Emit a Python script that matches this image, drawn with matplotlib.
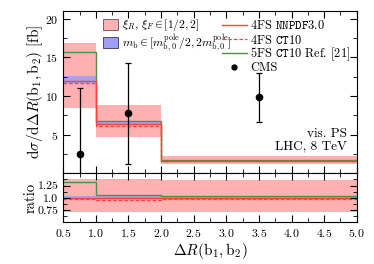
# NLO predictions vs CMS data for Delta R(b1, b2), with ratio panel

import matplotlib.pyplot as plt
import matplotlib.patches as mpatches
from matplotlib.legend import Legend
from matplotlib.lines import Line2D
from matplotlib.ticker import MultipleLocator
import numpy as np

plt.rcParams['font.family'] = 'serif'
plt.rcParams['font.serif'] = ['cmr10', 'DejaVu Serif']
plt.rcParams['mathtext.fontset'] = 'cm'
plt.rcParams['axes.formatter.use_mathtext'] = True
plt.rcParams['font.size'] = 8

edges = [0.5, 1.0, 2.0, 5.0]

# main panel [fb]
scale_lo = [8.5, 4.65, 1.25]
scale_hi = [16.85, 8.85, 2.25]
mb_lo = [11.65, 6.2, 1.55]
mb_hi = [12.6, 6.7, 1.72]
nnpdf = [11.9, 6.4, 1.62]
ct10 = [11.7, 6.1, 1.57]
fs5 = [15.7, 6.75, 1.67]

cms_x = [0.75, 1.5, 3.5]
cms_y = [2.55, 7.75, 9.85]
cms_up = [11.1, 14.3, 13.0]
cms_dn = [-1.0, 1.25, 6.7]

# ratio panel
r_scale_lo = [0.705, 0.71, 0.72]
r_scale_hi = [1.39, 1.38, 1.37]
r_mb_lo = [0.985, 0.975, 0.985]
r_mb_hi = [1.045, 1.04, 1.03]
r_nnpdf = [1.0, 1.0, 1.0]
r_ct10 = [0.98, 0.955, 0.975]
r_fs5 = [1.315, 1.05, 1.03]

c_band = '#ffb0b0'
c_mb = '#9e9ef5'
c_red = '#ff4040'
c_green = '#4f8f45'

fig = plt.figure(figsize=(3.74, 2.64), dpi=100)
ax = fig.add_axes([0.169, 0.3436, 0.785, 0.6147])
rax = fig.add_axes([0.169, 0.158, 0.785, 0.1856])


def draw(a, s_lo, s_hi, m_lo, m_hi, nn, ct, f5):
    a.stairs(s_hi, edges, baseline=s_lo, fill=True, color=c_band, lw=0)
    a.stairs(m_hi, edges, baseline=m_lo, fill=True, color=c_mb, alpha=0.85, lw=0)
    a.stairs(f5, edges, baseline=None, color=c_green, lw=1.0)
    a.stairs(nn, edges, baseline=None, color=c_red, lw=1.0)
    a.stairs(ct, edges, baseline=None, color=c_red, lw=0.9, ls=(0, (3, 1.5)))


draw(ax, scale_lo, scale_hi, mb_lo, mb_hi, nnpdf, ct10, fs5)
draw(rax, r_scale_lo, r_scale_hi, r_mb_lo, r_mb_hi, r_nnpdf, r_ct10, r_fs5)

yerr = [np.array(cms_y) - np.array(cms_dn), np.array(cms_up) - np.array(cms_y)]
ax.errorbar(cms_x, cms_y, yerr=yerr, fmt='o', color='black', ms=4.5,
            elinewidth=0.9, capsize=2.5, capthick=0.9, zorder=5)

for a in (ax, rax):
    a.set_xlim(0.5, 5.0)
    a.xaxis.set_major_locator(MultipleLocator(0.5))
    a.xaxis.set_minor_locator(MultipleLocator(0.25))
    a.tick_params(which='both', direction='in', top=True, right=True, labelsize=8.5)
    a.tick_params(which='major', length=5)
    a.tick_params(which='minor', length=3)

ax.set_ylim(0, 21)
ax.set_yticks([5, 10, 15, 20])
ax.yaxis.set_minor_locator(MultipleLocator(2.5))
ax.tick_params(labelbottom=False)
ax.set_ylabel(r'$\mathrm{d}\sigma/\mathrm{d}\Delta R(\mathrm{b}_1,\mathrm{b}_2)$ [fb]',
              fontsize=11, labelpad=0)

rax.set_ylim(0.5, 1.5)
rax.set_yticks([0.75, 1.0, 1.25])
rax.set_yticklabels(['0.75', '1.0', '1.25'])
rax.yaxis.set_minor_locator(MultipleLocator(0.125))
rax.set_ylabel('ratio', fontsize=10.5, labelpad=0)
rax.set_xlabel(r'$\Delta R(\mathrm{b}_1,\mathrm{b}_2)$', fontsize=11, labelpad=1)
fig.align_ylabels([ax, rax])

ax.text(0.965, 0.245, 'vis. PS', transform=ax.transAxes, ha='right', va='center', fontsize=9.5)
ax.text(0.965, 0.165, 'LHC, 8 TeV', transform=ax.transAxes, ha='right', va='center', fontsize=9.5)

# legend entries, one per row so the rows sit evenly
band_handles = [
    mpatches.Patch(facecolor=c_band, edgecolor='#555555', lw=0.6),
    mpatches.Patch(facecolor=c_mb, edgecolor='#333366', lw=0.6),
]
band_labels = [r'$\xi_R,\,\xi_F\in[1/2,2]$',
               r'$m_\mathrm{b}\in[m_{\mathrm{b},0}^\mathrm{pole}/2,2m_{\mathrm{b},0}^\mathrm{pole}]$']
band_rows = [0.912, 0.802]

line_handles = [
    Line2D([], [], color=c_red, lw=1.0),
    Line2D([], [], color=c_red, lw=0.9, ls=(0, (3, 1.5))),
    Line2D([], [], color=c_green, lw=1.0),
    Line2D([], [], color='black', marker='o', ms=3.5, ls='None'),
]
line_labels = [r'4FS $\mathtt{NNPDF3.0}$', r'4FS $\mathtt{CT10}$',
               r'5FS $\mathtt{CT10}$ Ref. [21]', 'CMS']
line_rows = [0.908, 0.821, 0.735, 0.649]

for h, lab, y in zip(band_handles, band_labels, band_rows):
    lg = Legend(ax, [h], [lab], loc='center left', bbox_to_anchor=(0.135, y),
                frameon=False, fontsize=8.4, handlelength=1.3, handleheight=1.1,
                handletextpad=0.35, borderpad=0, borderaxespad=0)
    ax.add_artist(lg)

for h, lab, y in zip(line_handles, line_labels, line_rows):
    lg = Legend(ax, [h], [lab], loc='center left', bbox_to_anchor=(0.541, y),
                frameon=False, fontsize=8.9, handlelength=2.0,
                handletextpad=0.3, borderpad=0, borderaxespad=0)
    ax.add_artist(lg)

fig.savefig('out.png', dpi=100)
